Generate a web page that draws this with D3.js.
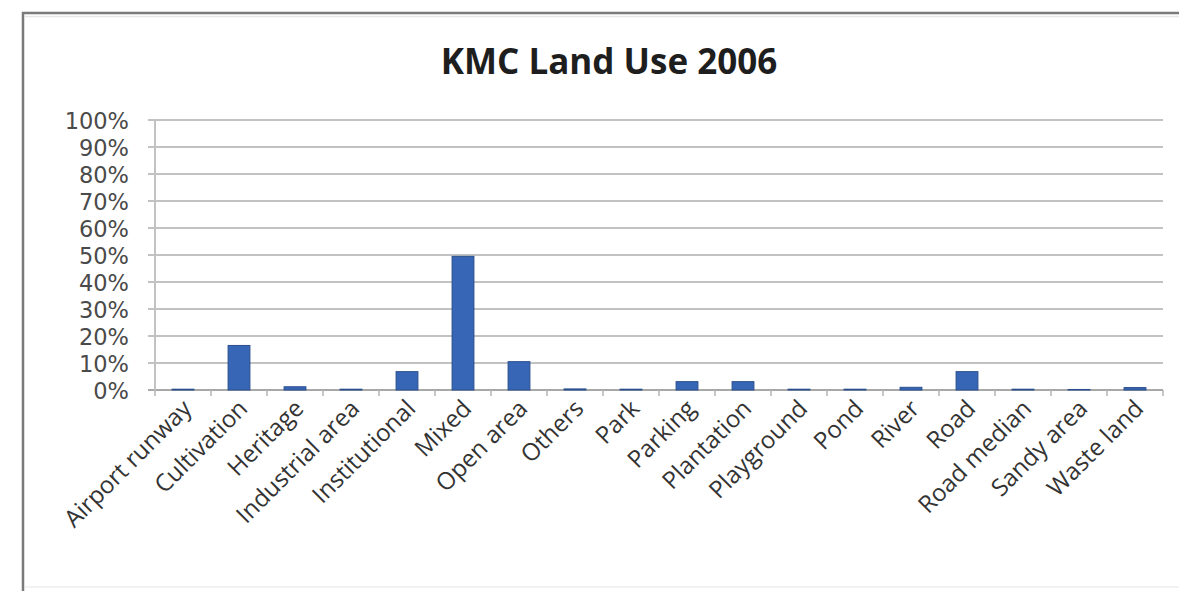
<!DOCTYPE html>
<html>
<head>
<meta charset="utf-8">
<script src="https://cdn.jsdelivr.net/npm/d3@7"></script>
<style>
  html, body { margin: 0; padding: 0; background: #fff; }
  svg { display: block; }
</style>
</head>
<body>
<svg id="chart" width="1179" height="591"></svg>
<script>
// Land use categories and their share of total area (%)
const categories = [
  "Airport runway", "Cultivation", "Heritage", "Industrial area", "Institutional",
  "Mixed", "Open area", "Others", "Park", "Parking", "Plantation", "Playground",
  "Pond", "River", "Road", "Road median", "Sandy area", "Waste land"
];
const shares = [
  0.3, 16.5, 1.2, 0.3, 6.8,
  49.5, 10.5, 0.4, 0.3, 3.1, 3.1, 0.3,
  0.3, 1.0, 6.8, 0.3, 0.2, 0.9
];
const yTicks = [0, 10, 20, 30, 40, 50, 60, 70, 80, 90, 100];
const title = "KMC Land Use 2006";

const svg = d3.select("#chart");
const W = 1179, H = 591;
const plot = { left: 155, right: 1163, top: 120, bottom: 390 };
const font = "'Open Sans', 'Liberation Sans', sans-serif";

// Chart frame
svg.append("rect")
  .attr("x", 23).attr("y", 13)
  .attr("width", W + 20).attr("height", H + 20)
  .attr("fill", "#fff").attr("stroke", "#7a7a7a").attr("stroke-width", 2.5);
svg.append("line")
  .attr("x1", 25).attr("x2", W).attr("y1", 16.5).attr("y2", 16.5)
  .attr("stroke", "#e6e6e6").attr("stroke-width", 1.5);
svg.append("line")
  .attr("x1", 25).attr("x2", W).attr("y1", 587).attr("y2", 587)
  .attr("stroke", "#eeeeee").attr("stroke-width", 1.5);

// Title
svg.append("text")
  .attr("x", 609).attr("y", 74)
  .attr("text-anchor", "middle")
  .attr("font-family", font)
  .attr("font-weight", "bold")
  .attr("font-size", 35)
  .attr("fill", "#1e1e1e")
  .text(title);

const x = d3.scaleBand().domain(categories).range([plot.left, plot.right]).padding(0);
const y = d3.scaleLinear().domain([0, 100]).range([plot.bottom, plot.top]);

// Horizontal gridlines with left tick marks
svg.append("g")
  .selectAll("line")
  .data(yTicks)
  .join("line")
  .attr("x1", plot.left - 7).attr("x2", plot.right)
  .attr("y1", d => y(d)).attr("y2", d => y(d))
  .attr("stroke", d => d === 0 ? "#a8a8a8" : "#c2c2c2")
  .attr("stroke-width", 2);

// Y axis line
svg.append("line")
  .attr("x1", plot.left).attr("x2", plot.left)
  .attr("y1", plot.top).attr("y2", plot.bottom)
  .attr("stroke", "#c2c2c2").attr("stroke-width", 2);

// Y tick labels
const yAxis = d3.axisLeft(y).tickValues(yTicks).tickFormat(d => d + "%").tickSize(0).tickPadding(26);
const gy = svg.append("g").attr("transform", `translate(${plot.left},0)`).call(yAxis);
gy.select(".domain").remove();
gy.selectAll("text")
  .attr("font-family", "'DejaVu Sans', sans-serif")
  .attr("font-size", 22.5)
  .attr("fill", "#4a4a4a")
  .attr("dy", "0.36em");

// X category tick marks at band boundaries
const bounds = categories.map(c => x(c)).concat([plot.right]);
svg.append("g")
  .selectAll("line")
  .data(bounds)
  .join("line")
  .attr("x1", d => d).attr("x2", d => d)
  .attr("y1", plot.bottom).attr("y2", plot.bottom + 6)
  .attr("stroke", "#b5b5b5").attr("stroke-width", 1.5);

// Bars
const barW = x.bandwidth() * 0.39;
svg.append("g")
  .selectAll("rect")
  .data(categories.map((c, i) => ({ c, v: shares[i] })))
  .join("rect")
  .attr("x", d => x(d.c) + (x.bandwidth() - barW) / 2)
  .attr("y", d => y(d.v))
  .attr("width", barW)
  .attr("height", d => y(0) - y(d.v))
  .attr("fill", "#3766b6")
  .attr("stroke", "#2b4f8e")
  .attr("stroke-width", 1);

// Rotated category labels
svg.append("g")
  .selectAll("text")
  .data(categories)
  .join("text")
  .attr("transform", d => `translate(${x(d) + x.bandwidth() / 2 + 10},${plot.bottom + 20}) rotate(-45)`)
  .attr("text-anchor", "end")
  .attr("font-family", font)
  .attr("font-size", 24)
  .attr("fill", "#333")
  .text(d => d);
</script>
</body>
</html>
